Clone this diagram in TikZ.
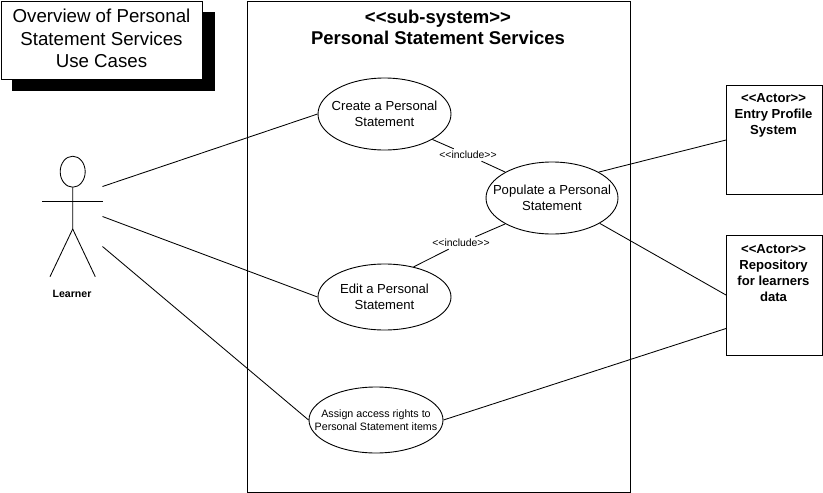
\documentclass[tikz,border=0pt]{standalone}
\usepackage{fontspec}
\setmainfont{Liberation Sans}
\usetikzlibrary{shapes.geometric}
\tikzset{
 uc/.style={draw=black,line width=0.9pt,fill=white,ellipse,inner xsep=-25pt,inner ysep=0pt,align=center,font=\fontsize{13.1}{16}\selectfont},
 box/.style={draw=black,line width=1pt,fill=white,inner sep=0pt},
 link/.style={draw=black,line width=0.85pt},
 lbl/.style={font=\fontsize{10.4}{12}\selectfont,inner sep=0pt,minimum width=58pt,minimum height=12pt},
 actortxt/.style={font=\bfseries\fontsize{13.1}{16.2}\selectfont,align=center,inner sep=0pt,anchor=center},
}
\begin{document}
\begin{tikzpicture}[x=1pt,y=-1pt]
\useasboundingbox (0,0) rectangle (823,493);
% title
\fill[black] (12,12) rectangle (215,91);
\node[box,minimum width=201pt,minimum height=78pt,anchor=north west] (title) at (1,1) {};
\node[align=center,inner sep=0pt,font=\fontsize{18.7}{22.4}\selectfont] (titletxt) at (101.5,38.5) {Overview of Personal\\Statement Services\\Use Cases};
% subsystem
\node[box,minimum width=383pt,minimum height=491pt,anchor=north west] (sys) at (247,1) {};
\node[align=center,font=\bfseries\fontsize{18.5}{21.7}\selectfont,inner sep=0pt] (systxt) at (438,27.5) {<{}<sub-system>{}>\\Personal Statement Services};
% use cases
\node[uc,minimum width=133pt,minimum height=72pt] (create) at (384.5,114) {Create a Personal\\Statement};
\node[uc,minimum width=133pt,minimum height=66pt] (edit) at (384.5,297) {Edit a Personal\\Statement};
\node[uc,minimum width=134pt,minimum height=66pt,font=\fontsize{10.7}{13}\selectfont] (assign) at (376,420) {Assign access rights to\\Personal Statement items};
\node[uc,minimum width=132pt,minimum height=72pt] (populate) at (552,198) {Populate a Personal\\Statement};
% actor boxes
\node[box,minimum width=96pt,minimum height=109pt,anchor=north west] (entry) at (726,85) {};
\node[actortxt] (entrytxt) at (773.5,115.5) {<{}<Actor>{}>\\Entry Profile\\System};
\node[box,minimum width=96pt,minimum height=120pt,anchor=north west] (repo) at (726,235) {};
\node[actortxt] (repotxt) at (773.5,273) {<{}<Actor>{}>\\Repository\\for learners\\data};
% stick figure
\node[draw=black,line width=0.85pt,ellipse,minimum width=25pt,minimum height=31pt,inner sep=0pt] (head) at (72.7,171.7) {};
\coordinate (hip) at (72.7,229);
\coordinate (armL) at (42.3,201.7);
\coordinate (armR) at (103,201.7);
\coordinate (footL) at (50,276.7);
\coordinate (footR) at (95.3,276.7);
\draw[link] (head.south) -- (hip) -- (footL);
\draw[link] (hip) -- (footR);
\draw[link] (armL) -- (armR);
\node[font=\bfseries\fontsize{10.6}{12}\selectfont,inner sep=0pt] (learner) at (72,294) {Learner};
% connectors
\coordinate (l1) at (102.5,186.5);
\coordinate (l2) at (102.5,216.5);
\coordinate (l3) at (102.5,246.5);
\coordinate (e1) at (726,140);
\coordinate (r1) at (726,295);
\coordinate (r2) at (726,328.5);
\draw[link] (l1) -- (create.west);
\draw[link] (l2) -- (edit.west);
\draw[link] (l3) -- (assign.west);
\draw[link] (populate.29) -- (e1);
\draw[link] (populate.-28) -- (r1);
\draw[link] (assign.east) -- (r2);
% include
\node[lbl] (inc1) at (468,155) {<{}<include>{}>};
\node[lbl] (inc2) at (461,243) {<{}<include>{}>};
\draw[link] (create.332) -- (inc1);
\draw[link] (inc1) -- (populate.151);
\draw[link] (edit.46) -- (inc2);
\draw[link] (inc2) -- (populate.209);
\end{tikzpicture}
\end{document}
